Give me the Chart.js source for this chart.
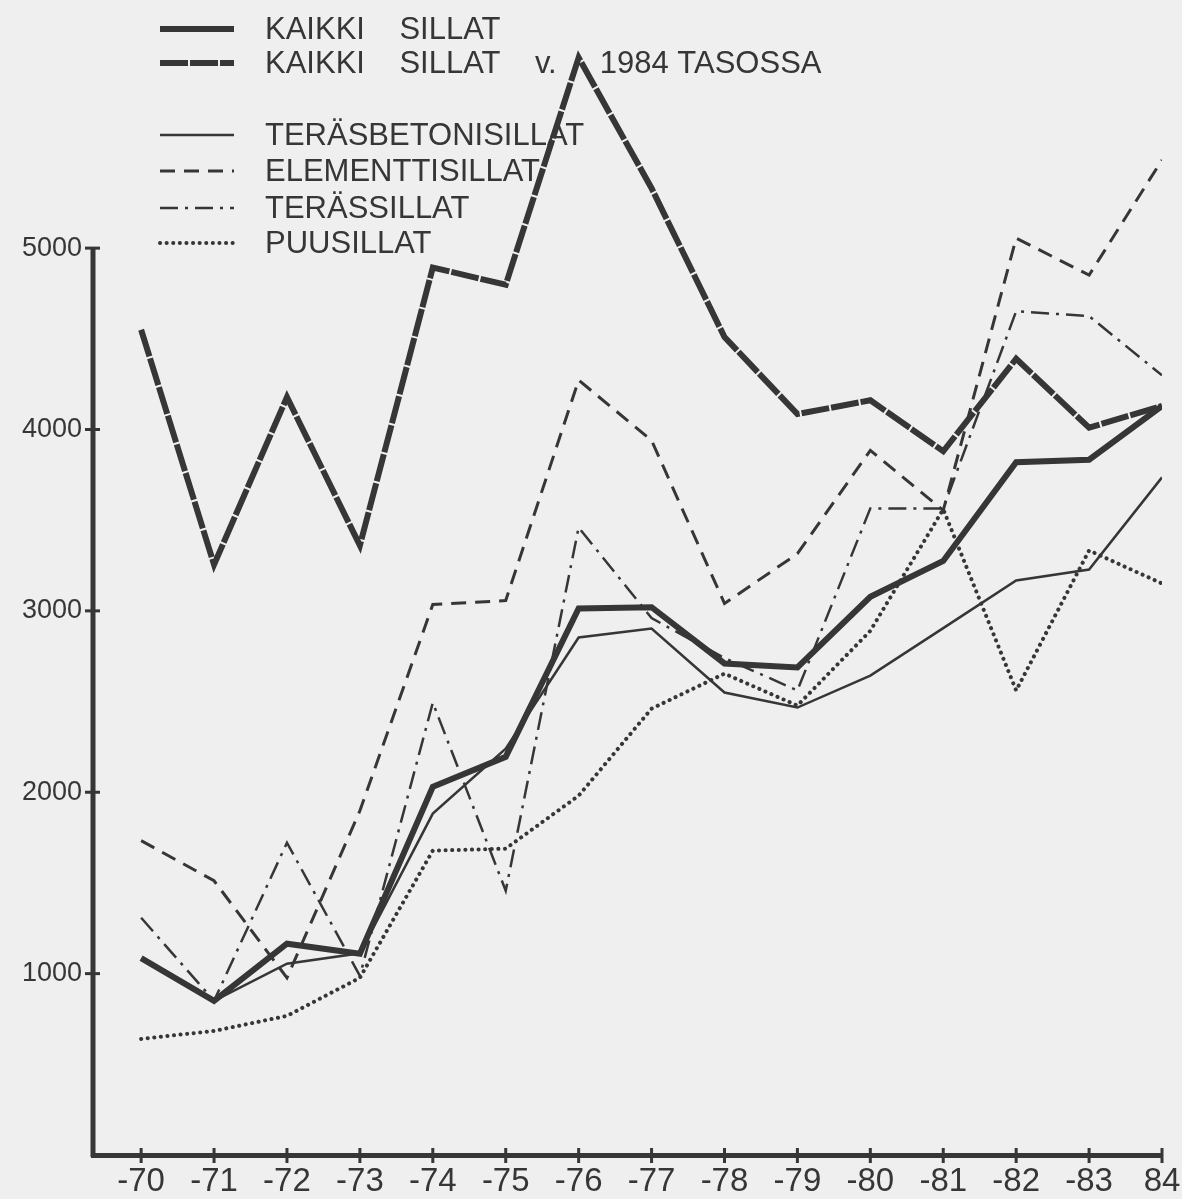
<!DOCTYPE html>
<html><head><meta charset="utf-8">
<script src="https://cdn.jsdelivr.net/npm/chart.js@4/dist/chart.umd.min.js"></script>
<style>
html,body{margin:0;padding:0;background:#efefef;}
#wrap{width:1182px;height:1199px;position:relative;}
</style>
</head><body>
<div id="wrap"><canvas id="c"></canvas></div>
<script>
// Categories (years)
const years = ['-70','-71','-72','-73','-74','-75','-76','-77','-78','-79','-80','-81','-82','-83','84'];
// Series values
const kaikkiSillat      = [1085, 850, 1165, 1110, 2030, 2195, 3013, 3020, 2710, 2688, 3078, 3275, 3819, 3833, 4130];
const kaikkiSillat1984  = [4550, 3255, 4178, 3361, 4893, 4798, 6050, 5330, 4510, 4085, 4161, 3880, 4390, 4010, 4130];
const terasbetonisillat = [1080, 850, 1055, 1112, 1882, 2240, 2853, 2903, 2550, 2467, 2643, 2905, 3168, 3228, 3736];
const elementtisillat   = [1733, 1512, 977, 1898, 3035, 3057, 4272, 3940, 3041, 3315, 3885, 3554, 5055, 4851, 5486];
const terassillat       = [1308, 850, 1722, 988, 2494, 1457, 3460, 2960, 2740, 2561, 3565, 3565, 4652, 4625, 4299];
const puusillat         = [640, 684, 767, 977, 1678, 1689, 1981, 2461, 2654, 2478, 2890, 3560, 2561, 3333, 3151];
// Tick labels
const yTickValues = [1000, 2000, 3000, 4000, 5000];
const yTickLabels = ['1000', '2000', '3000', '4000', '5000'];
const seriesNames = ['KAIKKI    SILLAT', 'KAIKKI    SILLAT    v.     1984 TASOSSA', 'TERÄSBETONISILLAT', 'ELEMENTTISILLAT', 'TERÄSSILLAT', 'PUUSILLAT'];

const INK = '#363636';
const toXY = arr => arr.map((v, i) => ({x: i, y: v}));

const datasets = [
  {label: seriesNames[0], data: toXY(kaikkiSillat), borderWidth: 6, borderDash: []},
  {label: seriesNames[1], data: toXY(kaikkiSillat1984), borderWidth: 6, borderDash: [28, 2]},
  {label: seriesNames[2], data: toXY(terasbetonisillat), borderWidth: 2.5, borderDash: []},
  {label: seriesNames[3], data: toXY(elementtisillat), borderWidth: 3, borderDash: [15, 9]},
  {label: seriesNames[4], data: toXY(terassillat), borderWidth: 2.5, borderDash: [18, 7, 3, 7]},
  {label: seriesNames[5], data: toXY(puusillat), borderWidth: 4, borderDash: [0.1, 6.5], borderCapStyle: 'round'}
].map(d => Object.assign({borderColor: INK, backgroundColor: INK, pointRadius: 0, tension: 0, fill: false, borderJoinStyle: 'miter', borderCapStyle: d.borderCapStyle || 'butt'}, d));

const bgPlugin = {
  id: 'bg',
  beforeDraw(chart) {
    const ctx = chart.ctx;
    ctx.save();
    ctx.fillStyle = '#efefef';
    ctx.fillRect(0, 0, chart.width, chart.height);
    ctx.restore();
  },
  afterDraw(chart) {
    const ctx = chart.ctx;
    const y = chart.scales.y, x = chart.scales.x;
    const ax = chart.chartArea.left;
    ctx.save();
    ctx.strokeStyle = INK;
    ctx.lineWidth = 5;
    ctx.beginPath();
    ctx.moveTo(ax, y.getPixelForValue(0) + 2);
    ctx.lineTo(ax, y.getPixelForValue(yTickValues[yTickValues.length - 1]));
    ctx.stroke();
    // ticks crossing axes
    ctx.lineWidth = 3;
    yTickValues.forEach(v => {
      const py = y.getPixelForValue(v);
      ctx.beginPath(); ctx.moveTo(ax - 8, py); ctx.lineTo(ax + 7, py); ctx.stroke();
    });
    years.forEach((_, i) => {
      const px = x.getPixelForValue(i);
      const py = y.getPixelForValue(0);
      ctx.beginPath(); ctx.moveTo(px, py - 7); ctx.lineTo(px, py + 8); ctx.stroke();
    });
    // legend
    const rows = [29, 63, 135, 171, 208, 243];
    const x0 = 160, x1 = 234, tx = 265;
    ctx.font = '31px "Liberation Sans", Arial, sans-serif';
    ctx.textBaseline = 'middle';
    ctx.fillStyle = INK;
    chart.data.datasets.forEach((d, i) => {
      const ry = rows[i];
      ctx.save();
      ctx.strokeStyle = d.borderColor;
      ctx.lineWidth = d.borderWidth;
      ctx.setLineDash(d.borderDash || []);
      ctx.lineCap = d.borderCapStyle || 'butt';
      ctx.beginPath(); ctx.moveTo(x0, ry); ctx.lineTo(x1, ry); ctx.stroke();
      ctx.restore();
      ctx.fillText(d.label, tx, ry + 1);
    });
    ctx.restore();
  }
};

new Chart(document.getElementById('c'), {
  type: 'line',
  data: {datasets},
  options: {
    responsive: true,
    maintainAspectRatio: false,
    devicePixelRatio: 1,
    animation: false,
    layout: {padding: {left: 0, right: 20, top: 0, bottom: 0}},
    plugins: {legend: {display: false}, tooltip: {enabled: false}},
    scales: {
      x: {
        type: 'linear', min: -0.66, max: years.length - 1,
        afterBuildTicks: s => { s.ticks = years.map((_, i) => ({value: i})); },
        afterFit: s => { s.height = 44; s.paddingLeft = 0; s.paddingRight = 0; },
        ticks: {callback: v => years[v], color: INK, font: {family: '"Liberation Sans", Arial, sans-serif', size: 33}, padding: 7, maxRotation: 0, autoSkip: false},
        grid: {drawOnChartArea: false, drawTicks: false},
        border: {display: true, color: INK, width: 5}
      },
      y: {
        type: 'linear', min: 0, max: 6218,
        afterBuildTicks: s => { s.ticks = yTickValues.map(v => ({value: v})); },
        afterFit: s => { s.width = 93; },
        ticks: {callback: v => yTickLabels[yTickValues.indexOf(v)], color: INK, font: {family: '"Liberation Sans", Arial, sans-serif', size: 27}, padding: 11},
        grid: {drawOnChartArea: false, drawTicks: false},
        border: {display: false}
      }
    }
  },
  plugins: [bgPlugin]
});
</script>
</body></html>
